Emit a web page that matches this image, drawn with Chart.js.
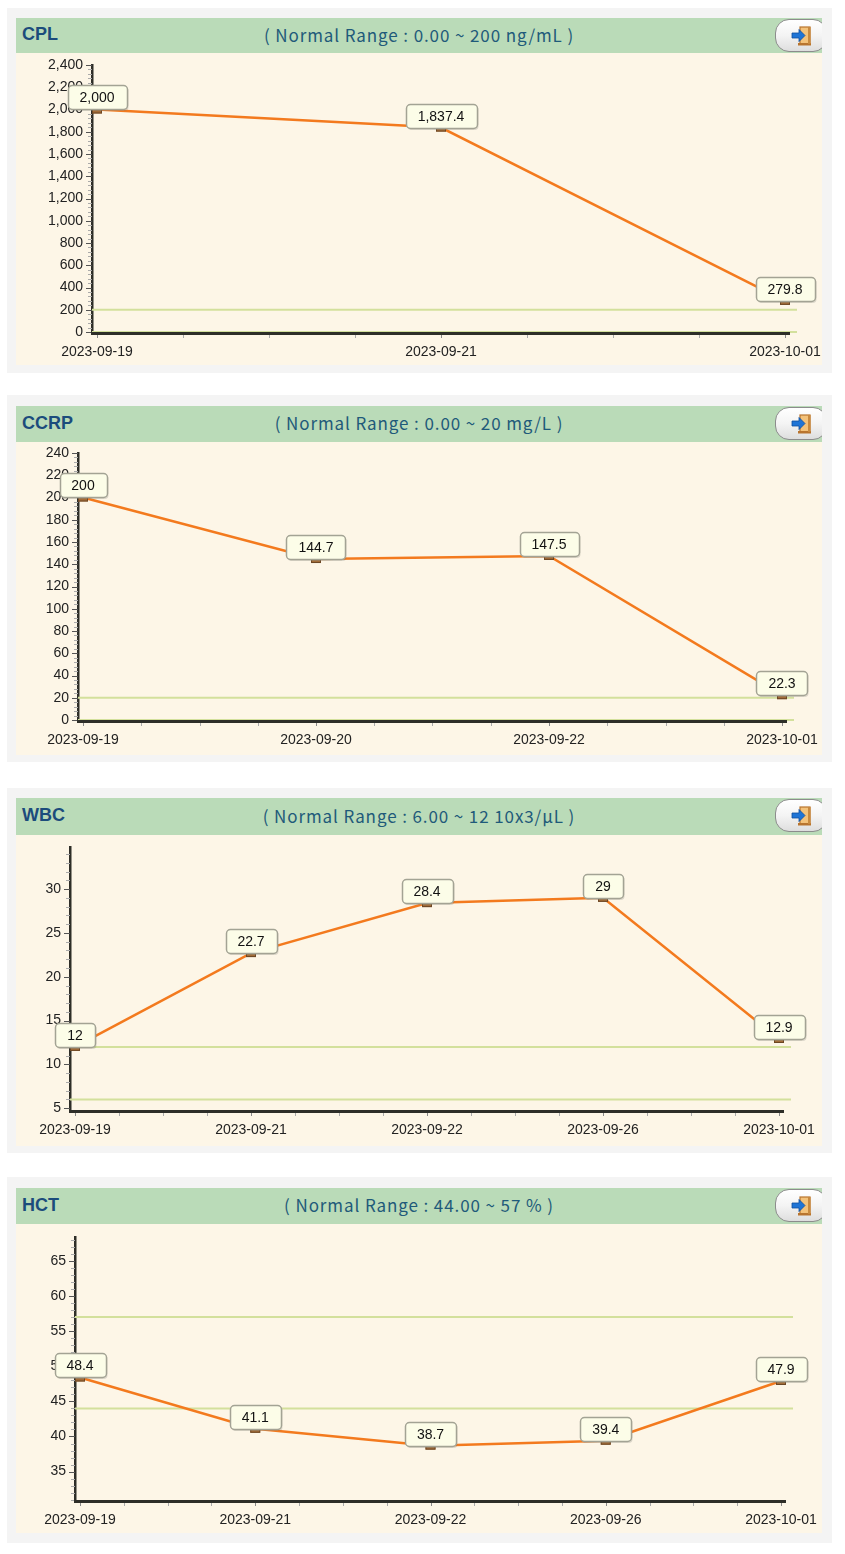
<!DOCTYPE html>
<html><head><meta charset="utf-8">
<script src="https://cdn.jsdelivr.net/npm/chart.js@4.4.0/dist/chart.umd.min.js"></script>
<style>
html,body{margin:0;padding:0;background:#fff}
body{width:845px;height:1554px;position:relative;overflow:hidden;font-family:"Liberation Sans",Arial,sans-serif}
.outer{position:absolute;left:7px;width:825px;background:#f4f4f4}
.head{position:absolute;left:16px;width:806px;background:#badbb8;overflow:hidden}
.title{position:absolute;left:6px;top:0;bottom:2px;display:flex;align-items:center;font-weight:bold;font-size:18px;color:#1c4c7c}
.range{position:absolute;left:0;right:0;top:0;bottom:3px;display:flex;align-items:center;justify-content:center;font-family:"Noto Sans CJK KR","Liberation Sans",sans-serif;font-size:17px;color:#1f5a7a;letter-spacing:0.9px}
.btn{position:absolute;left:759px;top:1px;width:52px;height:33px;border-radius:14px;border:1px solid #8c8c8c;background:linear-gradient(#ffffff 0%,#f4f4f4 50%,#dedede 100%);box-sizing:border-box}
.btn svg{position:absolute;left:14px;top:5px}
.cream{position:absolute;left:16px;width:806px;background:#fdf6e7;overflow:hidden}
</style>
</head>
<body>
<script>
// ---------------- data ----------------
const cplDates = ['2023-09-19', '2023-09-21', '2023-10-01'];
const cplValues = [2000, 1837.4, 279.8];
const cplTicks = [0, 200, 400, 600, 800, 1000, 1200, 1400, 1600, 1800, 2000, 2200, 2400];
const cplNormal = [0, 200];
const cplRange = [0, 2400];

const ccrpDates = ['2023-09-19', '2023-09-20', '2023-09-22', '2023-10-01'];
const ccrpValues = [200, 144.7, 147.5, 22.3];
const ccrpTicks = [0, 20, 40, 60, 80, 100, 120, 140, 160, 180, 200, 220, 240];
const ccrpNormal = [0, 20];
const ccrpRange = [0, 240];

const wbcDates = ['2023-09-19', '2023-09-21', '2023-09-22', '2023-09-26', '2023-10-01'];
const wbcValues = [12, 22.7, 28.4, 29, 12.9];
const wbcTicks = [5, 10, 15, 20, 25, 30];
const wbcNormal = [6, 12];
const wbcRange = [4.8, 34.8];

const hctDates = ['2023-09-19', '2023-09-21', '2023-09-22', '2023-09-26', '2023-10-01'];
const hctValues = [48.4, 41.1, 38.7, 39.4, 47.9];
const hctTicks = [35, 40, 45, 50, 55, 60, 65];
const hctNormal = [44, 57];
const hctRange = [30.96, 68.4];

const titles = ['CPL', 'CCRP', 'WBC', 'HCT'];
const rangeTexts = [
  '( Normal Range : 0.00 ~ 200 ng/mL )',
  '( Normal Range : 0.00 ~ 20 mg/L )',
  '( Normal Range : 6.00 ~ 12 10x3/μL )',
  '( Normal Range : 44.00 ~ 57 % )'
];

// ---------------- layout (page pixels) ----------------
const layouts = [
  {outer: [8, 373],    head: [18, 53],    cream: [53, 365],    area: {left: 76, right: 774, top: 12, bottom: 279}},
  {outer: [395, 762],  head: [406, 442],  cream: [442, 755],   area: {left: 62, right: 771, top: 11, bottom: 278}},
  {outer: [788, 1153], head: [798, 835],  cream: [835, 1146],  area: {left: 54, right: 768, top: 12, bottom: 275}},
  {outer: [1177, 1543],head: [1188, 1224],cream: [1224, 1533], area: {left: 59, right: 770, top: 13, bottom: 276}}
];

const panels = [
  {dates: cplDates, values: cplValues, ticks: cplTicks, normal: cplNormal, range: cplRange, minor: 40, fmt: v => v.toLocaleString('en-US'), lab: v => v.toLocaleString('en-US')},
  {dates: ccrpDates, values: ccrpValues, ticks: ccrpTicks, normal: ccrpNormal, range: ccrpRange, minor: 4, fmt: v => String(v), lab: v => String(v)},
  {dates: wbcDates, values: wbcValues, ticks: wbcTicks, normal: wbcNormal, range: wbcRange, minor: 1, fmt: v => String(v), lab: v => String(v)},
  {dates: hctDates, values: hctValues, ticks: hctTicks, normal: hctNormal, range: hctRange, minor: 1, fmt: v => String(v), lab: v => String(v)}
];

const FONT = '"Liberation Sans", Arial, sans-serif';

const iconSvg = '<svg width="22" height="22" viewBox="0 0 22 22">' +
  '<rect x="10" y="2" width="10" height="17" fill="#f3c27a" stroke="#b8742e" stroke-width="1.2"/>' +
  '<rect x="8" y="18" width="13" height="2.5" fill="#b8742e"/>' +
  '<rect x="18" y="2" width="2.5" height="17" fill="#c98a3e"/>' +
  '<path d="M2 8 H9 V4.5 L15 10.5 L9 16.5 V13 H2 Z" fill="#1e74d6" stroke="#0d4ea0" stroke-width="0.8"/>' +
  '</svg>';

function div(cls, top, height, parent) {
  const d = document.createElement('div');
  d.className = cls;
  if (top !== null) d.style.top = top + 'px';
  if (height !== null) d.style.height = height + 'px';
  (parent || document.body).appendChild(d);
  return d;
}

const decor = {
  id: 'decor',
  beforeDatasetsDraw(chart, args, o) {
    const {ctx, chartArea: a, scales: {x, y}} = chart;
    ctx.save();
    // normal range lines
    ctx.strokeStyle = '#d3e09c';
    ctx.lineWidth = 2;
    o.normal.forEach(v => {
      const py = y.getPixelForValue(v);
      ctx.beginPath(); ctx.moveTo(a.left, py); ctx.lineTo(a.right + 7, py); ctx.stroke();
    });
    // y minor ticks
    ctx.lineWidth = 1;
    const lo = Math.ceil(o.range[0] / o.minor - 1e-9), hi = Math.floor(o.range[1] / o.minor + 1e-9);
    for (let k = lo; k <= hi; k++) {
      const v = k * o.minor;
      const py = Math.round(y.getPixelForValue(v)) + 0.5;
      const major = o.ticks.some(t => Math.abs(t - v) < 1e-6);
      ctx.strokeStyle = major ? '#555' : '#aaa';
      ctx.beginPath(); ctx.moveTo(a.left - (major ? 6 : 4), py); ctx.lineTo(a.left, py); ctx.stroke();
    }
    // x ticks (major + 3 minor)
    const n = o.n;
    for (let i = 0; i < n; i++) {
      for (let q = 0; q < 4; q++) {
        if (i === n - 1 && q > 0) break;
        const px = Math.round(x.getPixelForValue(i + q / 4)) + 0.5;
        ctx.strokeStyle = q === 0 ? '#888' : '#aaa';
        ctx.beginPath(); ctx.moveTo(px, a.bottom + 2); ctx.lineTo(px, a.bottom + 6); ctx.stroke();
      }
    }
    // x axis line
    ctx.fillStyle = '#2e2e28';
    ctx.fillRect(a.left - 1, a.bottom, a.right - a.left + 1, 3);
    ctx.restore();
  },
  afterDatasetsDraw(chart, args, o) {
    const {ctx} = chart;
    const meta = chart.getDatasetMeta(0);
    ctx.save();
    ctx.font = '14px ' + FONT;
    meta.data.forEach((pt, i) => {
      const px = pt.x, py = pt.y;
      // marker
      ctx.fillStyle = '#a26c38';
      ctx.strokeStyle = '#6d4724';
      ctx.lineWidth = 1;
      ctx.fillRect(px - 5, py - 3, 10, 7);
      ctx.strokeRect(px - 4.5, py - 2.5, 9, 6);
      // label box
      const txt = o.lab(o.values[i]);
      const tw = ctx.measureText(txt).width;
      const w = Math.round(tw + 24), h = 24;
      const bx = Math.round(px - w / 2) + 0.5, by = Math.round(py - h) + 0.5;
      ctx.fillStyle = 'rgba(120,120,110,0.25)';
      ctx.beginPath(); ctx.roundRect(bx + 1, by + 1.5, w, h, 4); ctx.fill();
      ctx.fillStyle = '#fcfde8';
      ctx.strokeStyle = '#a3a394';
      ctx.lineWidth = 1.5;
      ctx.beginPath(); ctx.roundRect(bx, by, w, h, 4); ctx.fill(); ctx.stroke();
      ctx.fillStyle = '#111';
      ctx.textAlign = 'center';
      ctx.textBaseline = 'middle';
      ctx.fillText(txt, px, by + h / 2 + 0.5);
    });
    ctx.restore();
  }
};

panels.forEach((p, idx) => {
  const L = layouts[idx];
  div('outer', L.outer[0], L.outer[1] - L.outer[0]);
  const head = div('head', L.head[0], L.head[1] - L.head[0]);
  const t = div('title', null, null, head); t.textContent = titles[idx];
  const r = div('range', null, null, head); r.textContent = rangeTexts[idx];
  const b = div('btn', null, null, head); b.innerHTML = iconSvg;
  const ch = L.cream[1] - L.cream[0];
  const cream = div('cream', L.cream[0], ch);
  const cv = document.createElement('canvas');
  cream.appendChild(cv);

  const n = p.dates.length;
  const A = L.area;
  const pad = 5 * (n - 1) / (A.right - A.left - 10);

  new Chart(cv, {
    type: 'line',
    data: {
      datasets: [{
        data: p.values.map((v, i) => ({x: i, y: v})),
        borderColor: '#f37a1e',
        borderWidth: 2.5,
        pointRadius: 0,
        tension: 0,
        clip: false
      }]
    },
    options: {
      responsive: true,
      maintainAspectRatio: false,
      animation: false,
      events: [],
      layout: {padding: {left: 0, top: A.top, right: 806 - A.right, bottom: 0}},
      plugins: {
        legend: {display: false},
        tooltip: {enabled: false},
        decor: {normal: p.normal, range: p.range, minor: p.minor, ticks: p.ticks, n: n, values: p.values, lab: p.lab}
      },
      scales: {
        x: {
          type: 'linear',
          min: -pad,
          max: n - 1 + pad,
          grid: {display: false, drawTicks: false},
          border: {display: false},
          afterBuildTicks: s => { s.ticks = p.dates.map((d, i) => ({value: i})); },
          afterFit: s => { s.height = ch - A.bottom; s.paddingLeft = 0; s.paddingRight = 0; },
          ticks: {
            autoSkip: false, maxRotation: 0, minRotation: 0, padding: 12,
            color: '#222',
            font: {family: FONT, size: 14},
            callback: (v) => p.dates[Math.round(v)]
          }
        },
        y: {
          type: 'linear',
          min: p.range[0],
          max: p.range[1],
          grid: {display: false, drawTicks: false},
          border: {display: true, color: '#2e2e28', width: 2.5},
          afterBuildTicks: s => { s.ticks = p.ticks.map(v => ({value: v})); },
          afterFit: s => { s.width = A.left; s.paddingTop = 0; s.paddingBottom = 0; },
          ticks: {
            padding: 9,
            color: '#222',
            font: {family: FONT, size: 14},
            callback: v => p.fmt(v)
          }
        }
      }
    },
    plugins: [decor]
  });
});
</script>
</body></html>
